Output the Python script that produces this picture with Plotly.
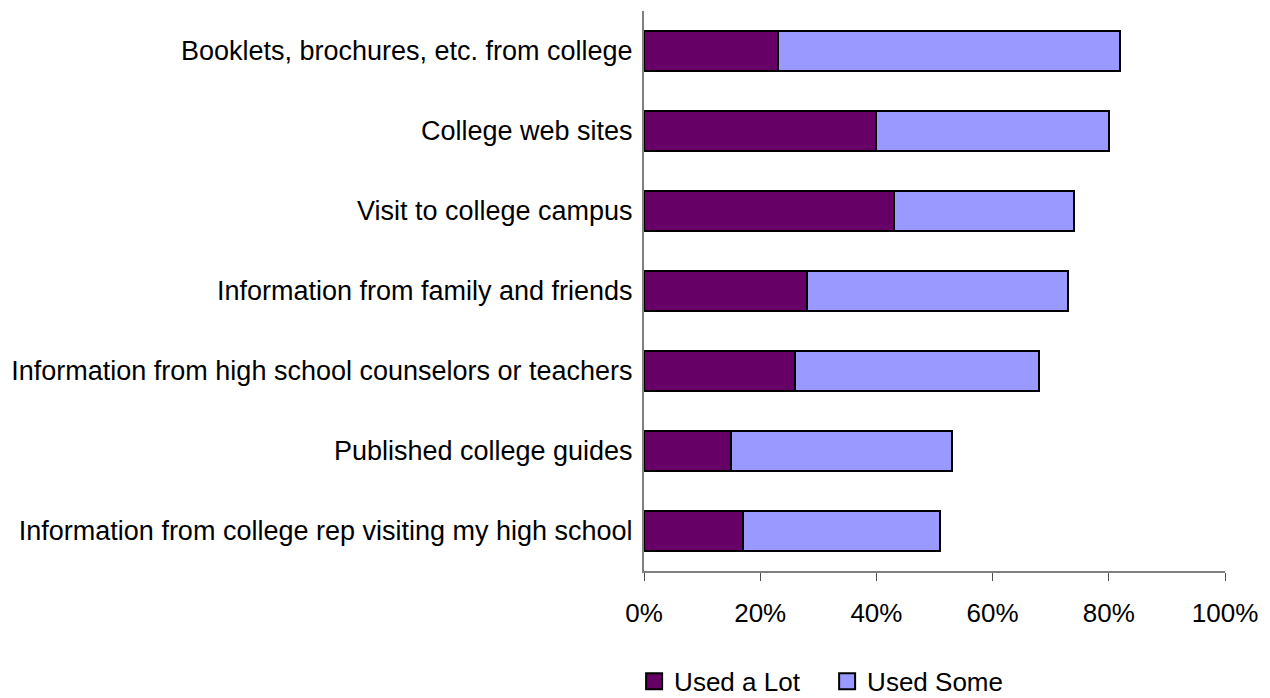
import plotly.graph_objects as go

categories = [
    "Booklets, brochures, etc. from college",
    "College web sites",
    "Visit to college campus",
    "Information from family and friends",
    "Information from high school counselors or teachers",
    "Published college guides",
    "Information from college rep visiting my high school",
]
used_a_lot = [23, 40, 43, 28, 26, 15, 17]
used_some = [59, 40, 31, 45, 42, 38, 34]
series_names = ["Used a Lot", "Used Some"]
series_colors = ["#660066", "#9999FF"]
tick_vals = [0, 20, 40, 60, 80, 100]
tick_text = ["0%", "20%", "40%", "60%", "80%", "100%"]

font_family = "Liberation Sans, Arial, sans-serif"

fig = go.Figure()
for name, values, color in zip(series_names, [used_a_lot, used_some], series_colors):
    fig.add_trace(go.Bar(
        y=categories, x=values, name=name, orientation="h",
        marker=dict(color=color, line=dict(color="#000000", width=2)),
        showlegend=False,
    ))

# square legend keys with a black border
for name, color in zip(series_names, series_colors):
    fig.add_trace(go.Scatter(
        x=[None], y=[None], mode="markers", name=name,
        marker=dict(symbol="square", size=16, color=color,
                    line=dict(color="#000000", width=2)),
    ))

fig.update_layout(
    barmode="stack",
    bargap=0.51,
    width=1270, height=698,
    margin=dict(l=644, r=45, t=11, b=127, autoexpand=False),
    plot_bgcolor="white", paper_bgcolor="white",
    font=dict(family=font_family, size=26, color="#000000"),
    showlegend=True,
    legend=dict(
        orientation="h", x=-0.017, xanchor="left", y=-0.155, yanchor="top",
        font=dict(size=26), traceorder="normal", itemwidth=30,
        entrywidth=148,
    ),
)
fig.update_xaxes(
    range=[0, 100], tickvals=tick_vals, ticktext=tick_text,
    showgrid=False, zeroline=False,
    showline=True, linecolor="#808080", linewidth=2,
    ticks="outside", ticklen=8, tickcolor="#505050", tickwidth=1,
    ticklabelstandoff=10,
    tickfont=dict(size=26),
)
fig.update_yaxes(
    autorange="reversed",
    showgrid=False, zeroline=False,
    showline=True, linecolor="#808080", linewidth=2,
    ticks="", ticklabelstandoff=4,
    tickfont=dict(size=27),
)

fig.write_html("out.html")
